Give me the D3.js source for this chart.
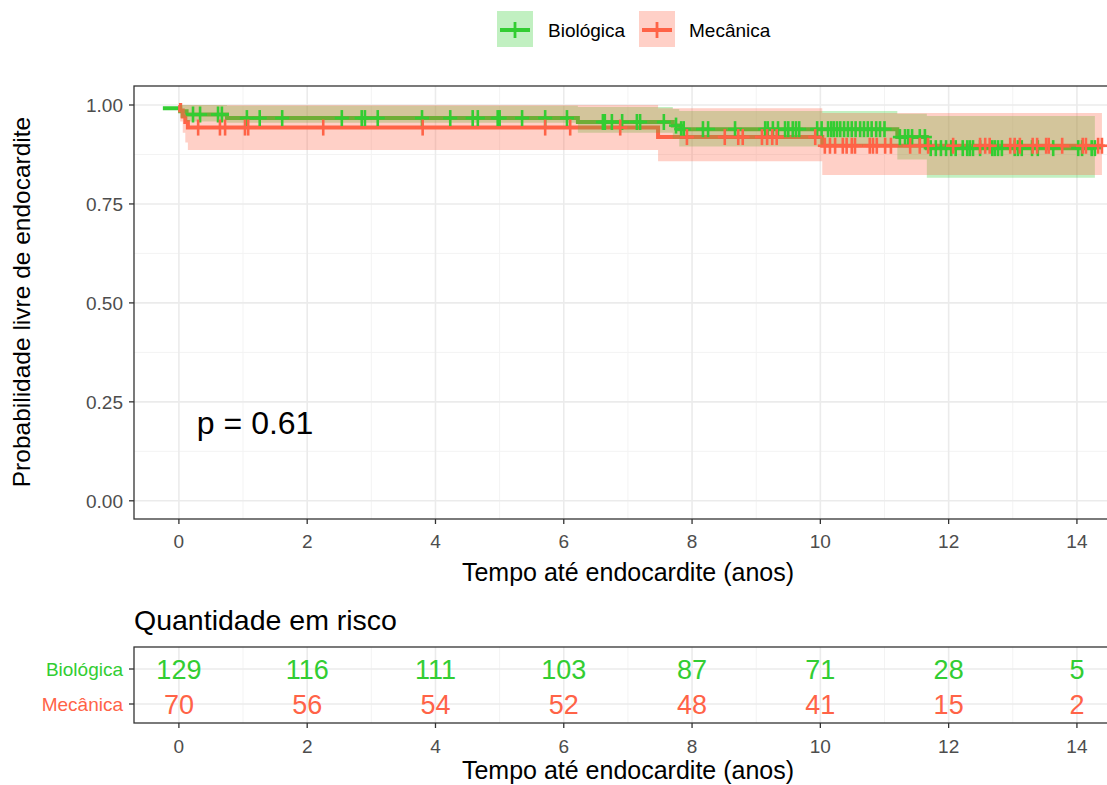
<!DOCTYPE html>
<html>
<head>
<meta charset="utf-8">
<script src="https://cdn.jsdelivr.net/npm/d3@7"></script>
<style>
  body { margin: 0; background: #fff; }
  svg { font-family: "Liberation Sans", Arial, sans-serif; }
</style>
</head>
<body>
<div id="chart"></div>
<script>
// groups
var groups = ['Biológica', 'Mecânica'];
var colors = ['#32CD32', '#FF6347'];

// Kaplan-Meier steps, Biológica
var bioTime = [-0.25, 0.02, 0.12, 0.75, 6.22, 7.70, 7.80, 11.20, 11.66];
var bioSurv = [0.992, 0.984, 0.976, 0.967, 0.957, 0.948, 0.939, 0.919, 0.891];
var bioEnd = 14.28;
var bioBandTime = [0.02, 0.12, 0.75, 6.22, 7.70, 7.80, 11.20, 11.66];
var bioLower = [0.968, 0.958, 0.955, 0.930, 0.915, 0.895, 0.862, 0.816];
var bioUpper = [1.000, 1.000, 0.998, 0.995, 0.990, 0.985, 0.978, 0.972];
var bioCensor = [0.22, 0.33, 0.61, 0.67, 1.06, 1.26, 1.61, 2.54, 2.85, 2.90, 3.10, 3.79, 4.23,
  4.58, 4.66, 4.97, 5.00, 5.35, 5.71, 6.05, 6.61, 6.64, 6.75, 6.91, 7.14, 7.19, 7.56, 7.75,
  7.83, 7.87, 8.17, 8.25, 8.67, 9.14, 9.18, 9.26, 9.34, 9.45, 9.50, 9.57, 9.62, 9.67, 9.95,
  10.02, 10.12, 10.17, 10.21, 10.26, 10.31, 10.37, 10.43, 10.49, 10.55, 10.62, 10.68, 10.74,
  10.80, 10.87, 10.93, 11.00, 11.24, 11.32, 11.37, 11.43, 11.55, 11.63, 11.72, 11.80, 11.88,
  11.96, 12.04, 12.11, 12.22, 12.29, 12.33, 12.38, 12.49, 12.68, 12.72, 12.77, 12.83, 13.03,
  13.08, 13.14, 13.30, 13.39, 13.63, 14.02, 14.08, 14.23, 14.28];

// Kaplan-Meier steps, Mecânica
var mecTime = [0, 0.02, 0.06, 0.10, 0.14, 7.47, 10.03];
var mecSurv = [1.000, 0.986, 0.971, 0.957, 0.943, 0.919, 0.897];
var mecEnd = 14.39;
var mecBandTime = [0.02, 0.06, 0.10, 0.14, 7.47, 10.03];
var mecLower = [0.958, 0.930, 0.905, 0.886, 0.858, 0.823];
var mecUpper = [1.000, 1.000, 1.000, 1.000, 0.992, 0.980];
var mecCensor = [0.30, 0.64, 0.72, 1.03, 1.08, 2.25, 3.80, 5.71, 6.10, 6.88, 7.92, 8.51, 8.72,
  8.79, 9.09, 9.17, 9.25, 9.32, 9.92, 10.07, 10.15, 10.23, 10.35, 10.41, 10.49, 10.54, 10.77,
  10.82, 10.88, 11.01, 11.10, 11.40, 11.55, 11.68, 12.07, 12.49, 12.57, 12.64, 12.96, 13.03,
  13.11, 13.31, 13.38, 13.52, 13.56, 13.77, 14.09, 14.14, 14.33, 14.39];

// risk table
var riskTimes = [0, 2, 4, 6, 8, 10, 12, 14];
var bioRisk = [129, 116, 111, 103, 87, 71, 28, 5];
var mecRisk = [70, 56, 54, 52, 48, 41, 15, 2];

var yTicks = [0, 0.25, 0.5, 0.75, 1];
var yMinor = [0.125, 0.375, 0.625, 0.875];
var xTicks = [0, 2, 4, 6, 8, 10, 12, 14];
var xMinor = [1, 3, 5, 7, 9, 11, 13];
var pText = 'p = 0.61';

var W = 1107, H = 785;
var svg = d3.select('#chart').append('svg').attr('width', W).attr('height', H);

var x = d3.scaleLinear().domain([-0.7, 14.5]).range([134, 1109]);
var y = d3.scaleLinear().domain([-0.046, 1.048]).range([519, 86]);

var tickCol = '#4D4D4D';

// --- main panel grid
var main = svg.append('g');
main.selectAll('.ym').data(yMinor).enter().append('line')
  .attr('x1', 134).attr('x2', 1109).attr('y1', y).attr('y2', y)
  .style('stroke', '#F3F3F3').style('stroke-width', 1);
main.selectAll('.xm').data(xMinor).enter().append('line')
  .attr('x1', x).attr('x2', x).attr('y1', 86).attr('y2', 519)
  .style('stroke', '#F3F3F3').style('stroke-width', 1);
main.selectAll('.yM').data(yTicks).enter().append('line')
  .attr('x1', 134).attr('x2', 1109).attr('y1', y).attr('y2', y)
  .style('stroke', '#EBEBEB').style('stroke-width', 1.6);
main.selectAll('.xM').data(xTicks).enter().append('line')
  .attr('x1', x).attr('x2', x).attr('y1', 86).attr('y2', 519)
  .style('stroke', '#EBEBEB').style('stroke-width', 1.6);

function pts(times, vals, end) {
  var p = times.map(function(t, i) { return [t, vals[i]]; });
  p.push([end, vals[vals.length - 1]]);
  return p;
}
function stepAt(times, vals, t) {
  var v = vals[0];
  for (var i = 0; i < times.length; i++) if (times[i] <= t) v = vals[i];
  return v;
}

var line = d3.line().x(function(d) { return x(d[0]); }).y(function(d) { return y(d[1]); })
  .curve(d3.curveStepAfter);
var area = d3.area().x(function(d) { return x(d.t); })
  .y0(function(d) { return y(d.lo); }).y1(function(d) { return y(d.hi); })
  .curve(d3.curveStepAfter);

var curves = [
  {time: bioTime, surv: bioSurv, end: bioEnd, bt: bioBandTime, lo: bioLower, hi: bioUpper, cens: bioCensor},
  {time: mecTime, surv: mecSurv, end: mecEnd, bt: mecBandTime, lo: mecLower, hi: mecUpper, cens: mecCensor}
];

// step lines
curves.forEach(function(c, i) {
  main.append('path').attr('d', line(pts(c.time, c.surv, c.end)))
    .style('fill', 'none').style('stroke', colors[i]).style('stroke-width', 4);
});

// confidence ribbons (drawn over lines)
curves.forEach(function(c, i) {
  var band = c.bt.map(function(t, j) { return {t: t, lo: c.lo[j], hi: c.hi[j]}; });
  band.push({t: c.end, lo: c.lo[c.lo.length - 1], hi: c.hi[c.hi.length - 1]});
  main.append('path').attr('d', area(band))
    .style('fill', colors[i]).style('fill-opacity', 0.3).style('stroke', 'none');
});

// censor marks
curves.forEach(function(c, i) {
  var g = main.append('g');
  c.cens.forEach(function(t) {
    var cx = x(t), cy = y(stepAt(c.time, c.surv, t));
    g.append('line').attr('x1', cx - 7).attr('x2', cx + 7).attr('y1', cy).attr('y2', cy)
      .style('stroke', colors[i]).style('stroke-width', 2.6);
    g.append('line').attr('x1', cx).attr('x2', cx).attr('y1', cy - 8).attr('y2', cy + 8)
      .style('stroke', colors[i]).style('stroke-width', 2.6);
  });
});

// p value
main.append('text').attr('x', x(0.28)).attr('y', y(0.17))
  .style('font-size', '32px').style('fill', '#000').text(pText);

// border
main.append('rect').attr('x', 134).attr('y', 86).attr('width', 1109 - 134).attr('height', 519 - 86)
  .style('fill', 'none').style('stroke', '#333333').style('stroke-width', 1.3);

// axes
var yAxis = main.append('g');
yTicks.forEach(function(v) {
  yAxis.append('line').attr('x1', 129).attr('x2', 134).attr('y1', y(v)).attr('y2', y(v))
    .style('stroke', '#333').style('stroke-width', 1.3);
  yAxis.append('text').attr('x', 123).attr('y', y(v)).attr('dy', '0.36em')
    .attr('text-anchor', 'end').style('font-size', '19px').style('fill', tickCol)
    .text(d3.format('.2f')(v));
});
var xAxis = main.append('g');
xTicks.forEach(function(v) {
  xAxis.append('line').attr('x1', x(v)).attr('x2', x(v)).attr('y1', 519).attr('y2', 524)
    .style('stroke', '#333').style('stroke-width', 1.3);
  xAxis.append('text').attr('x', x(v)).attr('y', 541).attr('dy', '0.36em')
    .attr('text-anchor', 'middle').style('font-size', '19px').style('fill', tickCol).text(v);
});
main.append('text').attr('x', 628).attr('y', 572).attr('dy', '0.36em').attr('text-anchor', 'middle')
  .style('font-size', '25px').text('Tempo até endocardite (anos)');
main.append('text').attr('transform', 'translate(21,302) rotate(-90)').attr('dy', '0.36em')
  .attr('text-anchor', 'middle').style('font-size', '24.5px').text('Probabilidade livre de endocardite');

// --- legend
var leg = svg.append('g');
var legX = [497, 639];
var legLab = [548, 689];
groups.forEach(function(gname, i) {
  leg.append('rect').attr('x', legX[i]).attr('y', 11).attr('width', 36).attr('height', 36)
    .style('fill', colors[i]).style('fill-opacity', 0.3);
  leg.append('line').attr('x1', legX[i] + 3).attr('x2', legX[i] + 33).attr('y1', 30).attr('y2', 30)
    .style('stroke', colors[i]).style('stroke-width', 4);
  leg.append('line').attr('x1', legX[i] + 18).attr('x2', legX[i] + 18).attr('y1', 22).attr('y2', 38)
    .style('stroke', colors[i]).style('stroke-width', 2.8);
  leg.append('text').attr('x', legLab[i]).attr('y', 30).attr('dy', '0.36em')
    .style('font-size', '19px').style('fill', '#000').text(gname);
});

// --- risk table
var rt = svg.append('g');
var ry = d3.scalePoint().domain(groups).range([669, 704]);
xMinor.forEach(function(v) {
  rt.append('line').attr('x1', x(v)).attr('x2', x(v)).attr('y1', 647).attr('y2', 723)
    .style('stroke', '#F3F3F3').style('stroke-width', 1);
});
xTicks.forEach(function(v) {
  rt.append('line').attr('x1', x(v)).attr('x2', x(v)).attr('y1', 647).attr('y2', 723)
    .style('stroke', '#EBEBEB').style('stroke-width', 1.6);
});
groups.forEach(function(gname) {
  rt.append('line').attr('x1', 134).attr('x2', 1109).attr('y1', ry(gname)).attr('y2', ry(gname))
    .style('stroke', '#EBEBEB').style('stroke-width', 1.6);
});
var riskVals = [bioRisk, mecRisk];
groups.forEach(function(gname, i) {
  riskVals[i].forEach(function(n, j) {
    rt.append('text').attr('x', x(riskTimes[j])).attr('y', ry(gname)).attr('dy', '0.36em')
      .attr('text-anchor', 'middle').style('font-size', '27px').style('fill', colors[i]).text(n);
  });
  rt.append('line').attr('x1', 129).attr('x2', 134).attr('y1', ry(gname)).attr('y2', ry(gname))
    .style('stroke', '#333').style('stroke-width', 1.3);
  rt.append('text').attr('x', 123).attr('y', ry(gname)).attr('dy', '0.36em').attr('text-anchor', 'end')
    .style('font-size', '19px').style('fill', colors[i]).text(gname);
});
rt.append('rect').attr('x', 134).attr('y', 647).attr('width', 1109 - 134).attr('height', 723 - 647)
  .style('fill', 'none').style('stroke', '#333333').style('stroke-width', 1.3);
xTicks.forEach(function(v) {
  rt.append('line').attr('x1', x(v)).attr('x2', x(v)).attr('y1', 723).attr('y2', 728)
    .style('stroke', '#333').style('stroke-width', 1.3);
  rt.append('text').attr('x', x(v)).attr('y', 746).attr('dy', '0.36em')
    .attr('text-anchor', 'middle').style('font-size', '19px').style('fill', tickCol).text(v);
});
rt.append('text').attr('x', 628).attr('y', 770).attr('dy', '0.36em').attr('text-anchor', 'middle')
  .style('font-size', '25px').text('Tempo até endocardite (anos)');
rt.append('text').attr('x', 134).attr('y', 620).attr('dy', '0.36em')
  .style('font-size', '28.5px').text('Quantidade em risco');
</script>
</body>
</html>
